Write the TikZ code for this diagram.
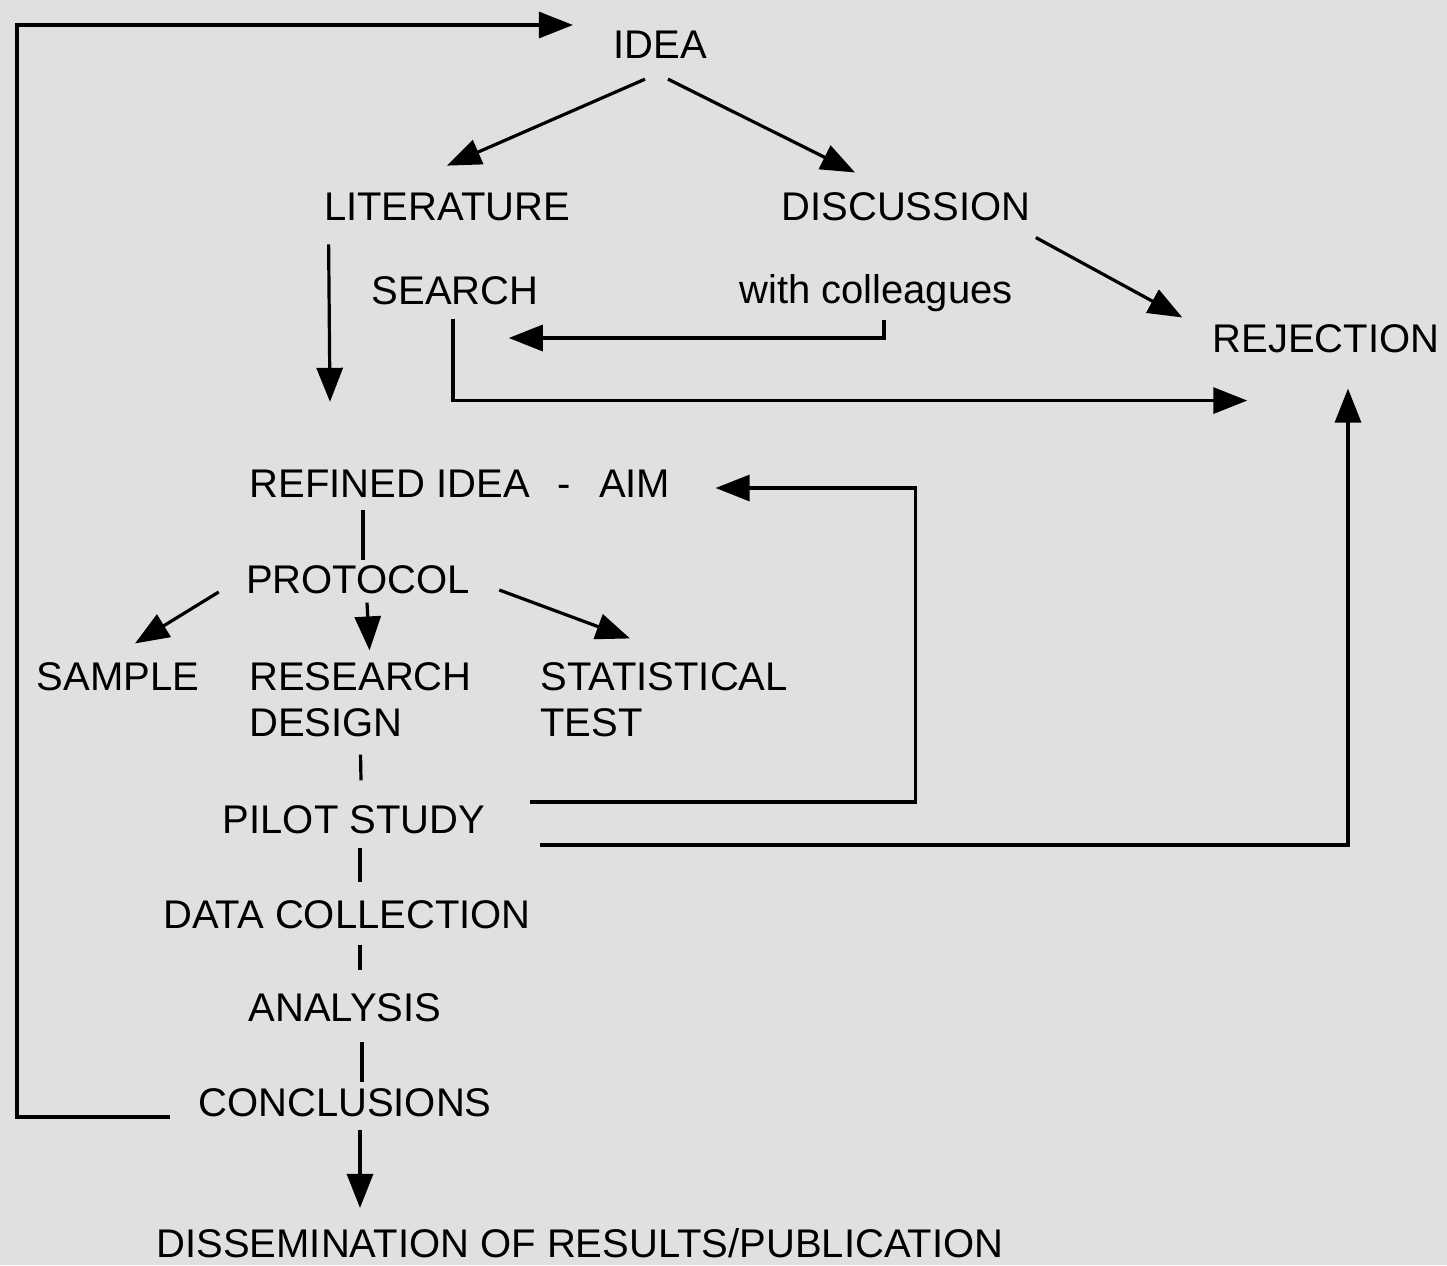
\documentclass[tikz,border=0pt]{standalone}
\usepackage{fontspec}
\setmainfont{Liberation Sans}
\usetikzlibrary{arrows.meta}
\definecolor{paper}{RGB}{224,224,224}
\begin{document}
\begin{tikzpicture}[x=0.5pt,y=-0.5pt,
    lbl/.style={inner sep=0pt,font=\fontsize{20}{23}\selectfont},
    link/.style={line width=1.6pt},
    arr/.style={link,-{Triangle[length=17pt,width=13pt]}}]
        \fill[paper] (0,0) rectangle (1447,1265);

        \node [lbl](idea)at(660,45){IDEA};
        \node [lbl](lit)at(447,207){LITERATURE};
        \node [lbl](disc)at(906,207){DISCUSSION};
        \node [lbl](search)at(455,291){SEARCH};
        \node [lbl](coll)at(876,293){with colleagues};
        \node [lbl](rej)at(1326,339){REJECTION};
        \node [lbl](refined)at(460,484){REFINED IDEA\hspace{0.7em}-\hspace{0.7em}AIM};
        \node [lbl](protocol)at(358,580){PROTOCOL};
        \node [lbl](sample)at(118,677){SAMPLE};
        \node [lbl,anchor=west,align=left](research)at(249,700){RESEARCH\\DESIGN};
        \node [lbl,anchor=west,align=left](stat)at(540,700){STATISTICAL\\TEST};
        \node [lbl](pilot)at(354,820){PILOT STUDY};
        \node [lbl](data)at(347,915){DATA COLLECTION};
        \node [lbl](analysis)at(345,1008){ANALYSIS};
        \node [lbl](concl)at(345,1103){CONCLUSIONS};
        \node [lbl](dissem)at(580,1243){DISSEMINATION OF RESULTS/PUBLICATION};

        \draw[arr] ([shift={(-15,20)}]idea.south) -- ([shift={(0,-27)}]lit.north);
        \draw[arr] ([shift={(8,20)}]idea.south) -- ([shift={(-51,-20)}]disc.north);
        \draw[arr] ([shift={(5,16)}]disc.south east) -- ([shift={(-30,-7)}]rej.north west);
        \draw[arr] ([shift={(5,23)}]lit.south west) -- ([shift={(-130,-68)}]refined.north);
        \draw[arr] ([shift={(8,8)}]coll.south) |- ([shift={(-30,47)}]search.east);
        \draw[arr] ([shift={(-2,13)}]search.south) |- ([shift={(35,47)}]rej.south west);
        \draw[arr] ([shift={(44,-18)}]pilot.east) -- ++(386,0) |- ([shift={(45,4)}]refined.east);
        \draw[arr] ([shift={(54,25)}]pilot.east) -| ([shift={(22,35)}]rej.south);

        \draw[link] ([shift={(-97,12)}]refined.south) -- ([shift={(5,-5)}]protocol.north);
        \draw[arr] ([shift={(-27,12)}]protocol.west) -- ([shift={(17,-19)}]sample.north);
        \draw[arr] ([shift={(9,8)}]protocol.south) -- ([shift={(9,-12)}]research.north);
        \draw[arr] ([shift={(29,10)}]protocol.east) -- ([shift={(90,-24)}]stat.north west);
        \draw[link] ([shift={(0,17)}]research.south) -- ([shift={(7,-25)}]pilot.north);
        \draw[link] ([shift={(6,13)}]pilot.south) -- ([shift={(13,-18)}]data.north);
        \draw[link] ([shift={(13,15)}]data.south) -- ([shift={(15,-23)}]analysis.north);
        \draw[link] ([shift={(17,19)}]analysis.south) -- ([shift={(17,-6)}]concl.north);
        \draw[arr] ([shift={(15,12)}]concl.south) -- ([shift={(-220,-20)}]dissem.north);
        \draw[arr] ([shift={(-28,14)}]concl.west) -- ++(-153,0) |- ([shift={(-40,-20)}]idea.west);
    \end{tikzpicture}
\end{document}
